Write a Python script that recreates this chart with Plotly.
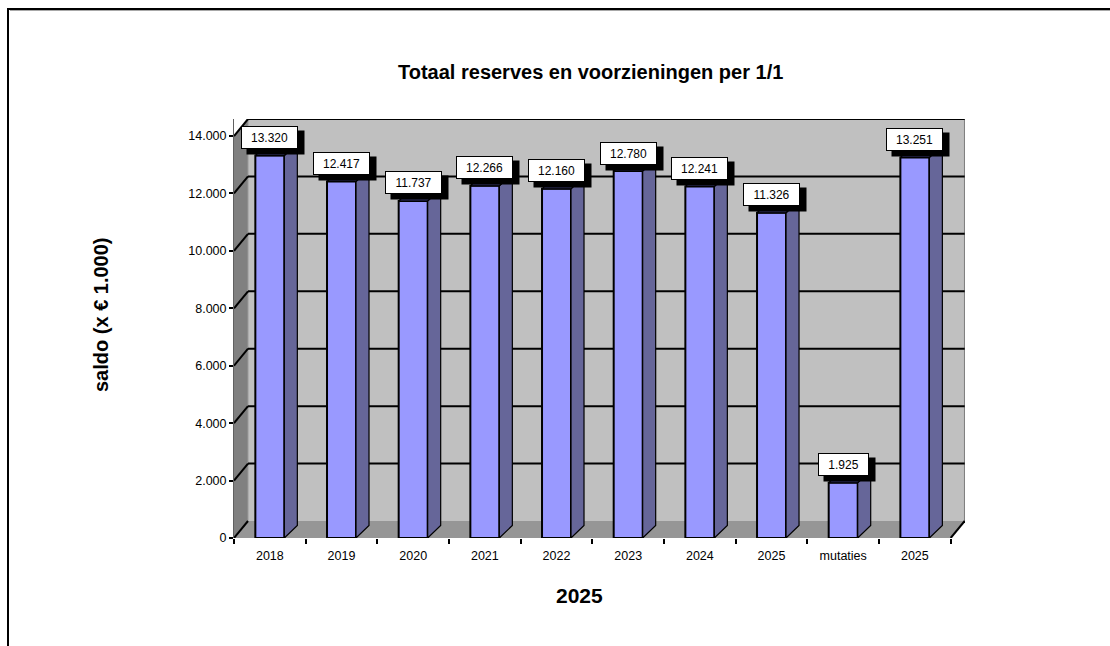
import plotly.graph_objects as go

categories = ["2018", "2019", "2020", "2021", "2022", "2023", "2024", "2025", "mutaties", "2025"]
values = [13320, 12417, 11737, 12266, 12160, 12780, 12241, 11326, 1925, 13251]
value_labels = ["13.320", "12.417", "11.737", "12.266", "12.160", "12.780", "12.241", "11.326", "1.925", "13.251"]
y_ticks = [0, 2000, 4000, 6000, 8000, 10000, 12000, 14000]
y_tick_labels = ["0", "2.000", "4.000", "6.000", "8.000", "10.000", "12.000", "14.000"]

FONT = "Liberation Sans"
L, R, T, B = 234.0, 965.0, 119.0, 538.0
STEP = 71.67
PX_Y = 14000 / 402.0
WALL_DX, WALL_DY = 14 / STEP, 17 * PX_Y
BAR_DX, BAR_DY = 13 / STEP, 12.5 * PX_Y
BAR_W = 29 / STEP
X0, X1 = -0.5, 9.5
x_range = [X0, X0 + (R - L) / STEP]
y_range = [0, (B - T) * PX_Y]

def px(xp):
    return (xp - L) / (R - L)

def py(yp):
    return (B - yp) / (B - T)

shapes = []

def poly(pts, fill, line="rgba(0,0,0,0)", w=0):
    path = "M " + " L ".join(f"{a},{b}" for a, b in pts) + " Z"
    shapes.append(dict(type="path", path=path, xref="x", yref="y", fillcolor=fill,
                       line=dict(color=line, width=w), layer="below"))

def seg(a, b, c, d, color="black", w=2):
    shapes.append(dict(type="line", x0=a, y0=b, x1=c, y1=d, xref="x", yref="y",
                       line=dict(color=color, width=w), layer="below"))

top = y_ticks[-1]
poly([(X0 + WALL_DX, WALL_DY), (X1 + WALL_DX, WALL_DY), (X1 + WALL_DX, top + WALL_DY), (X0 + WALL_DX, top + WALL_DY)], "#C0C0C0")
poly([(X0, 0), (X0 + WALL_DX, WALL_DY), (X0 + WALL_DX, top + WALL_DY), (X0, top)], "#808080")
poly([(X0, 0), (X1, 0), (X1 + WALL_DX, WALL_DY), (X0 + WALL_DX, WALL_DY)], "#969696")
seg(X1 + WALL_DX, WALL_DY, X1 + WALL_DX, top + WALL_DY, "#808080", 1.5)
seg(X0 + WALL_DX, WALL_DY, X0 + WALL_DX, top + WALL_DY, "#9a9a9a", 1)
for v in y_ticks:
    seg(X0, v, X0 + WALL_DX, v + WALL_DY)
    if v > 0:
        seg(X0 + WALL_DX, v + WALL_DY, X1 + WALL_DX, v + WALL_DY)
seg(X1, 0, X1 + WALL_DX, WALL_DY)

# page frame
shapes += [
    dict(type="line", xref="paper", yref="paper", x0=px(8), x1=px(1112), y0=py(9), y1=py(9), line=dict(color="black", width=2)),
    dict(type="line", xref="paper", yref="paper", x0=px(10), x1=px(1112), y0=py(10.5), y1=py(10.5), line=dict(color="#a8a8a8", width=1)),
    dict(type="line", xref="paper", yref="paper", x0=px(8), x1=px(8), y0=py(8), y1=py(648), line=dict(color="black", width=2)),
]

xs = list(range(len(values)))
fig = go.Figure()
fig.add_trace(go.Bar(x=xs, y=values, width=BAR_W, marker=dict(color="#9999FF", line=dict(color="black", width=2)), hoverinfo="skip"))

sx, sy, tx, ty = [], [], [], []
for x, v in zip(xs, values):
    r, l = x + BAR_W / 2, x - BAR_W / 2
    sx += [r, r + BAR_DX, r + BAR_DX, r, r, None]
    sy += [0, BAR_DY, v + BAR_DY, v, 0, None]
    tx += [l, r, r + BAR_DX, l + BAR_DX, l, None]
    ty += [v, v, v + BAR_DY, v + BAR_DY, v, None]
fig.add_trace(go.Scatter(x=sx, y=sy, mode="lines", fill="toself", fillcolor="#666699", line=dict(color="black", width=1.2), hoverinfo="skip"))
fig.add_trace(go.Scatter(x=tx, y=ty, mode="lines", fill="toself", fillcolor="#333366", line=dict(color="black", width=1.2), hoverinfo="skip"))

ann = []
for x, v, t in zip(xs, values, value_labels):
    w = 55 if len(t) > 5 else 49
    ann.append(dict(x=x, y=v, xref="x", yref="y", text=t, showarrow=False, yanchor="middle", xanchor="center",
                    xshift=6, yshift=13, width=w, height=21, bgcolor="black", font=dict(family=FONT, size=12, color="black")))
    ann.append(dict(x=x, y=v, xref="x", yref="y", text=t, showarrow=False, yanchor="middle", xanchor="center",
                    xshift=0, yshift=18, width=w, height=21, bgcolor="white", bordercolor="black", borderwidth=1, borderpad=0,
                    font=dict(family=FONT, size=12, color="black")))

ann += [
    dict(xref="paper", yref="paper", x=px(590), y=py(59), text="<b>Totaal reserves en voorzieningen per 1/1</b>", showarrow=False,
         font=dict(family=FONT, size=20, color="black")),
    dict(xref="paper", yref="paper", x=px(88), y=py(315), text="<b>saldo (x € 1.000)</b>", textangle=-90, showarrow=False,
         font=dict(family=FONT, size=20, color="black")),
    dict(xref="paper", yref="paper", x=px(579), y=py(609), text="<b>2025</b>", showarrow=False,
         font=dict(family=FONT, size=21, color="black")),
]

fig.update_layout(
    width=1110, height=646, showlegend=False, paper_bgcolor="white", plot_bgcolor="rgba(0,0,0,0)",
    margin=dict(l=L, r=1110 - R, t=T, b=646 - B, pad=0, autoexpand=False),
    font=dict(family=FONT, color="black"), shapes=shapes, annotations=ann,
    xaxis=dict(range=x_range, tickmode="array", tickvals=xs, ticktext=categories, showgrid=False, zeroline=False,
               ticks="", tickfont=dict(size=12.5, family=FONT, color="black"), ticklabelstandoff=8,
               minor=dict(tickmode="array", tickvals=[X0 + i for i in range(11)], ticks="outside", ticklen=5, tickwidth=2, tickcolor="black", showgrid=False)),
    yaxis=dict(range=y_range, tickmode="array", tickvals=y_ticks, ticktext=y_tick_labels, showgrid=False, zeroline=False,
               ticks="outside", ticklen=4, tickwidth=2, tickcolor="black", showline=True, linecolor="#606060", linewidth=1,
               tickfont=dict(size=12.5, family=FONT, color="black")),
)
fig.write_html("out.html", config=dict(displayModeBar=False), post_script="document.body.style.margin='0';document.body.style.overflow='hidden';")
